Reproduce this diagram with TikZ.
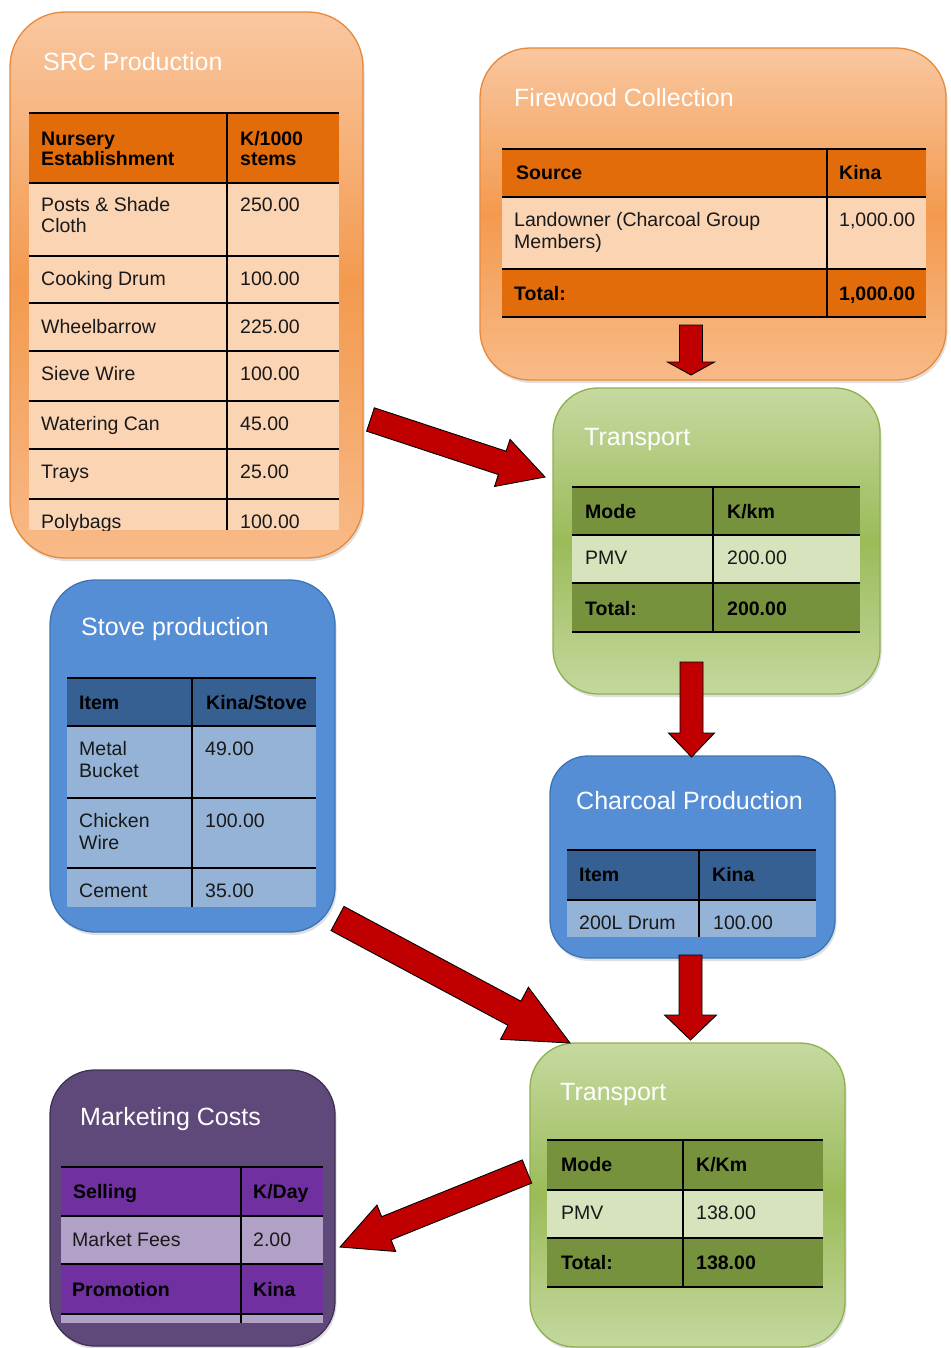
\documentclass[tikz,border=0pt]{standalone}
\usepackage{fontspec}
\setmainfont{Liberation Sans}
\usetikzlibrary{calc,shadows}

% palette
\definecolor{orTop}{HTML}{F9C7A0}
\definecolor{orMid}{HTML}{F39A4F}
\definecolor{orBot}{HTML}{F8BA88}
\definecolor{orLine}{HTML}{E8893A}
\definecolor{orHead}{HTML}{E36C0A}
\definecolor{orLight}{HTML}{FBD4B4}
\definecolor{grTop}{HTML}{C6D9A0}
\definecolor{grMid}{HTML}{9BBB59}
\definecolor{grBot}{HTML}{C4D89E}
\definecolor{grLine}{HTML}{8FB04E}
\definecolor{grHead}{HTML}{76923C}
\definecolor{grLight}{HTML}{D7E3BC}
\definecolor{blFill}{HTML}{558ED5}
\definecolor{blLine}{HTML}{3D74B5}
\definecolor{blHead}{HTML}{366092}
\definecolor{blLight}{HTML}{95B3D7}
\definecolor{puFill}{HTML}{5F497A}
\definecolor{puLine}{HTML}{3F3151}
\definecolor{puHead}{HTML}{7030A0}
\definecolor{puLight}{HTML}{B2A1C7}
\definecolor{arrowRed}{HTML}{C00000}

\tikzset{
  panel/.style={draw, line width=1.3pt, anchor=north west, inner sep=0pt, outer sep=0pt,
    drop shadow={shadow xshift=1.5pt, shadow yshift=-3pt, opacity=.25}},
  % middle colour must come last, after top and bottom
  orangepanel/.style={panel, draw=orLine, top color=orTop, bottom color=orBot, middle color=orMid},
  greenpanel/.style={panel, draw=grLine, top color=grTop, bottom color=grBot, middle color=grMid},
  bluepanel/.style={panel, draw=blLine, fill=blFill},
  purplepanel/.style={panel, draw=puLine, fill=puFill},
  rule/.style={draw=black, line width=1.5pt},
  title/.style={anchor=base west, inner sep=0pt, text=white, font=\fontsize{25}{30}\selectfont},
  cell/.style={anchor=base west, inner sep=0pt, text=black!90, font=\fontsize{19.5}{22}\selectfont},
  hcell/.style={cell, text=black, font=\fontsize{19.5}{22}\selectfont\bfseries},
  redarrow/.style={fill=arrowRed, draw=black, line width=0.9pt, line join=miter},
}

% block arrow from #1 (tail centre) to #2 (tip);
% #3 half shaft width, #4 half head width, #5 head length
\newcommand{\blockarr}[5]{%
  \coordinate (#1-base) at ($(#2)!#5!(#1)$);
  \draw[redarrow] ($(#1)!#3!90:(#2)$) -- ($(#1-base)!#3!90:(#2)$)
    -- ($(#1-base)!#4!90:(#2)$) -- (#2) -- ($(#1-base)!#4!-90:(#2)$)
    -- ($(#1-base)!#3!-90:(#2)$) -- ($(#1)!#3!-90:(#2)$) -- cycle;
}

\begin{document}
\begin{tikzpicture}[x=1pt, y=-1pt]
\useasboundingbox (0,0) rectangle (950,1348);

% ---------- SRC Production ----------
\node[orangepanel, minimum width=353pt, minimum height=546pt, rounded corners=55pt] (src) at (10,12) {};
\node[title] (srcT) at (43,71) {SRC Production};
\fill[orHead] (29,113) rectangle (339,183);
\fill[orLight] (29,183) rectangle (339,530);
\foreach \yy in {113,183,256,303,351,401,449,499} \draw[rule] (29,\yy) -- (339,\yy);
\draw[rule] (227,113) -- (227,530);
\node[hcell] (srcH1) at (41,146) {Nursery};
\node[hcell] (srcH1b) at (41,166) {Establishment};
\node[hcell] (srcH2) at (240,146) {K/1000};
\node[hcell] (srcH2b) at (240,166) {stems};
\node[cell] (srcR1) at (41,212) {Posts \& Shade};
\node[cell] (srcR1b) at (41,233) {Cloth};
\node[cell] (srcV1) at (240,212) {250.00};
\node[cell] (srcR2) at (41,285) {Cooking Drum};
\node[cell] (srcV2) at (240,285) {100.00};
\node[cell] (srcR3) at (41,333) {Wheelbarrow};
\node[cell] (srcV3) at (240,333) {225.00};
\node[cell] (srcR4) at (41,380) {Sieve Wire};
\node[cell] (srcV4) at (240,380) {100.00};
\node[cell] (srcR5) at (41,430) {Watering Can};
\node[cell] (srcV5) at (240,430) {45.00};
\node[cell] (srcR6) at (41,478) {Trays};
\node[cell] (srcV6) at (240,478) {25.00};
\begin{scope}
  \clip (29,113) rectangle (339,530);
  \node[cell] (srcR7) at (41,528) {Polybags};
  \node[cell] (srcV7) at (240,528) {100.00};
\end{scope}

% ---------- Firewood Collection ----------
\node[orangepanel, minimum width=466pt, minimum height=332pt, rounded corners=50pt] (fw) at (480,48) {};
\node[title] (fwT) at (514,107) {Firewood Collection};
\fill[orHead] (502,149) rectangle (926,197);
\fill[orLight] (502,197) rectangle (926,269);
\fill[orHead] (502,269) rectangle (926,317);
\foreach \yy in {149,197,269,317} \draw[rule] (502,\yy) -- (926,\yy);
\draw[rule] (827,149) -- (827,317);
\node[hcell] (fwH1) at (516,180) {Source};
\node[hcell] (fwH2) at (839,180) {Kina};
\node[cell] (fwR1) at (514,227) {Landowner (Charcoal Group};
\node[cell] (fwR1b) at (514,248) {Members)};
\node[cell] (fwV1) at (839,227) {1,000.00};
\node[hcell] (fwTot) at (514,300) {Total:};
\node[hcell] (fwTotV) at (839,300) {1,000.00};

% ---------- Transport (firewood) ----------
\node[greenpanel, minimum width=327pt, minimum height=306pt, rounded corners=45pt] (tr1) at (553,388) {};
\node[title] (tr1T) at (584,445) {Transport};
\fill[grHead] (572,487) rectangle (860,535);
\fill[grLight] (572,535) rectangle (860,583);
\fill[grHead] (572,583) rectangle (860,632);
\foreach \yy in {487,535,583,632} \draw[rule] (572,\yy) -- (860,\yy);
\draw[rule] (713,487) -- (713,632);
\node[hcell] (tr1H1) at (585,518) {Mode};
\node[hcell] (tr1H2) at (727,518) {K/km};
\node[cell] (tr1R1) at (585,564) {PMV};
\node[cell] (tr1V1) at (727,564) {200.00};
\node[hcell] (tr1Tot) at (585,615) {Total:};
\node[hcell] (tr1TotV) at (727,615) {200.00};

% ---------- Stove production ----------
\node[bluepanel, minimum width=285pt, minimum height=352pt, rounded corners=45pt] (stove) at (50,580) {};
\node[title] (stoveT) at (81,635) {Stove production};
\fill[blHead] (67,678) rectangle (316,726);
\fill[blLight] (67,726) rectangle (316,907);
\foreach \yy in {678,726,798,868} \draw[rule] (67,\yy) -- (316,\yy);
\draw[rule] (192,678) -- (192,907);
\node[hcell] (stH1) at (79,709) {Item};
\node[hcell] (stH2) at (206,709) {Kina/Stove};
\node[cell] (stR1) at (79,755) {Metal};
\node[cell] (stR1b) at (79,777) {Bucket};
\node[cell] (stV1) at (205,755) {49.00};
\node[cell] (stR2) at (79,827) {Chicken};
\node[cell] (stR2b) at (79,849) {Wire};
\node[cell] (stV2) at (205,827) {100.00};
\node[cell] (stR3) at (79,897) {Cement};
\node[cell] (stV3) at (205,897) {35.00};

% ---------- Charcoal Production ----------
\node[bluepanel, minimum width=285pt, minimum height=202pt, rounded corners=38pt] (char) at (550,756) {};
\node[title] (charT) at (576,809) {Charcoal Production};
\fill[blHead] (567,850) rectangle (816,900);
\fill[blLight] (567,900) rectangle (816,937);
\foreach \yy in {850,900} \draw[rule] (567,\yy) -- (816,\yy);
\draw[rule] (699,850) -- (699,937);
\node[hcell] (chH1) at (579,881) {Item};
\node[hcell] (chH2) at (712,881) {Kina};
\node[cell] (chR1) at (579,929) {200L Drum};
\node[cell] (chV1) at (713,929) {100.00};

% ---------- Transport (charcoal) ----------
\node[greenpanel, minimum width=315pt, minimum height=304pt, rounded corners=45pt] (tr2) at (530,1043) {};
\node[title] (tr2T) at (560,1100) {Transport};
\fill[grHead] (547,1140) rectangle (823,1190);
\fill[grLight] (547,1190) rectangle (823,1238);
\fill[grHead] (547,1238) rectangle (823,1287);
\foreach \yy in {1140,1190,1238,1287} \draw[rule] (547,\yy) -- (823,\yy);
\draw[rule] (683,1140) -- (683,1287);
\node[hcell] (tr2H1) at (561,1171) {Mode};
\node[hcell] (tr2H2) at (696,1171) {K/Km};
\node[cell] (tr2R1) at (561,1219) {PMV};
\node[cell] (tr2V1) at (696,1219) {138.00};
\node[hcell] (tr2Tot) at (561,1269) {Total:};
\node[hcell] (tr2TotV) at (696,1269) {138.00};

% ---------- Marketing Costs ----------
\node[purplepanel, minimum width=285pt, minimum height=276pt, rounded corners=45pt] (mkt) at (50,1070) {};
\node[title] (mktT) at (80,1125) {Marketing Costs};
\fill[puHead] (61,1167) rectangle (323,1216);
\fill[puLight] (61,1216) rectangle (323,1264);
\fill[puHead] (61,1264) rectangle (323,1314);
\fill[puLight] (61,1314) rectangle (323,1323);
\foreach \yy in {1167,1216,1264,1314} \draw[rule] (61,\yy) -- (323,\yy);
\draw[rule] (241,1167) -- (241,1323);
\node[hcell] (mkH1) at (73,1198) {Selling};
\node[hcell] (mkH2) at (253,1198) {K/Day};
\node[cell] (mkR1) at (72,1246) {Market Fees};
\node[cell] (mkV1) at (253,1246) {2.00};
\node[hcell] (mkR2) at (72,1296) {Promotion};
\node[hcell] (mkV2) at (253,1296) {Kina};

% ---------- flow arrows ----------
\coordinate (fwOut) at (691,325);   \coordinate (tr1In) at (691,375);
\coordinate (srcOut) at (370.5,419.5); \coordinate (tr1Side) at (545,477);
\coordinate (tr1Out) at (691.5,662); \coordinate (charIn) at (691.5,757);
\coordinate (charOut) at (690.5,955); \coordinate (tr2In) at (690.5,1040);
\coordinate (stoveOut) at (337.5,918.5); \coordinate (tr2Corner) at (570,1043);
\coordinate (tr2Out) at (527,1171.5); \coordinate (mktIn) at (340,1247);

\blockarr{fwOut}{tr1In}{11.5pt}{23.5pt}{13pt}
\blockarr{srcOut}{tr1Side}{12.3pt}{24.8pt}{45pt}
\blockarr{tr1Out}{charIn}{11.5pt}{23pt}{24pt}
\blockarr{charOut}{tr2In}{11.5pt}{26pt}{25pt}
\blockarr{stoveOut}{tr2Corner}{13.7pt}{29.5pt}{63pt}
\blockarr{tr2Out}{mktIn}{12.5pt}{25pt}{50pt}
\end{tikzpicture}
\end{document}
